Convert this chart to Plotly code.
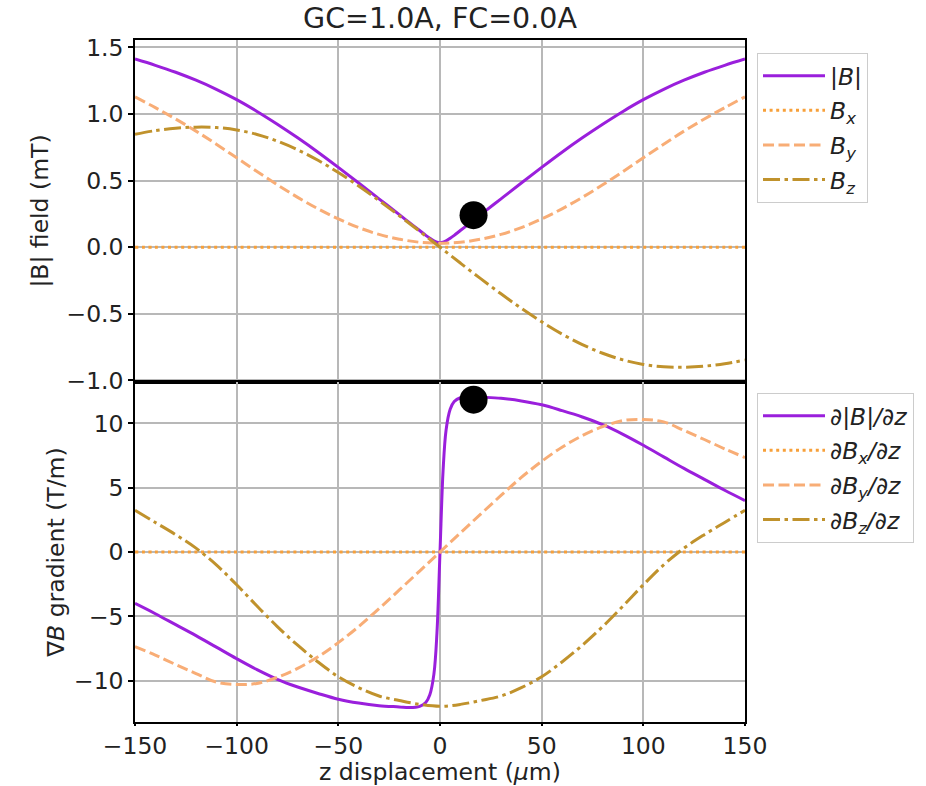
import plotly.graph_objects as go
from plotly.subplots import make_subplots

# Sample positions along z (micrometres)
z_um = [-150, -140, -130, -120, -110, -100, -90, -80, -70, -60, -50, -40, -30, -20, -10,
        0, 10, 20, 30, 40, 50, 60, 70, 80, 90, 100, 110, 120, 130, 140, 150]

# Denser sampling around the field minimum for the magnitude curves
z_fine_um = [-150, -140, -130, -120, -110, -100, -90, -80, -70, -60, -50, -40, -30, -20,
             -15, -10, -7, -5, -3, -1.5, 0, 1.5, 3, 5, 7, 10, 15,
             20, 30, 40, 50, 60, 70, 80, 90, 100, 110, 120, 130, 140, 150]

# Field components (mT)
B_mag_mT = [1.412, 1.365, 1.313, 1.253, 1.185, 1.107, 1.019, 0.923, 0.821, 0.713, 0.599,
            0.482, 0.363, 0.244, 0.184, 0.125, 0.089, 0.067, 0.047, 0.037, 0.033,
            0.037, 0.047, 0.067, 0.089, 0.125, 0.184, 0.244, 0.363, 0.482, 0.599,
            0.713, 0.821, 0.923, 1.019, 1.107, 1.185, 1.253, 1.313, 1.365, 1.412]
Bx_mT = [0.0] * 31
By_mT = [1.128, 1.047, 0.962, 0.871, 0.773, 0.671, 0.568, 0.468, 0.374, 0.288, 0.212,
         0.147, 0.096, 0.060, 0.037, 0.030, 0.037, 0.060, 0.096, 0.147, 0.212, 0.288,
         0.374, 0.468, 0.568, 0.671, 0.773, 0.871, 0.962, 1.047, 1.128]
Bz_mT = [0.847, 0.875, 0.893, 0.901, 0.898, 0.880, 0.846, 0.796, 0.731, 0.652, 0.560,
         0.459, 0.350, 0.236, 0.119, 0.0, -0.119, -0.236, -0.350, -0.459, -0.560, -0.652,
         -0.731, -0.796, -0.846, -0.880, -0.898, -0.901, -0.893, -0.875, -0.847]

# Gradients (T/m)
dBmag_dz = [-4.0, -4.8, -5.65, -6.5, -7.4, -8.3, -9.15, -9.9, -10.5, -11.0, -11.45,
            -11.75, -11.95, -12.05, -12.1, -12.0, -11.7, -11.1, -9.5, -6.3, 0.0,
            6.3, 9.5, 11.1, 11.7, 12.0, 12.1, 12.05, 11.95, 11.75, 11.45,
            11.0, 10.5, 9.9, 9.15, 8.3, 7.4, 6.5, 5.65, 4.8, 4.0]
dBx_dz = [0.0] * 31
dBy_dz = [-7.35, -8.02, -8.75, -9.45, -10.12, -10.30, -10.22, -9.75, -9.05, -8.15, -7.05,
          -5.80, -4.40, -2.95, -1.48, 0.0, 1.48, 2.95, 4.40, 5.80, 7.05, 8.15, 9.05,
          9.75, 10.22, 10.30, 10.12, 9.45, 8.75, 8.02, 7.35]
dBz_dz = [3.25, 2.3, 1.35, 0.3, -1.0, -2.55, -4.2, -5.8, -7.25, -8.55, -9.7, -10.55,
          -11.2, -11.55, -11.85, -12.0, -11.85, -11.55, -11.2, -10.55, -9.7, -8.55,
          -7.25, -5.8, -4.2, -2.55, -1.0, 0.3, 1.35, 2.3, 3.25]

# Highlighted operating point
marker_z = [16.5]
marker_B = [0.24]
marker_dB = [11.85]

title_text = "GC=1.0A, FC=0.0A"
x_title = "z displacement (<i>μ</i>m)"

C_MAG = "#9a1fdc"
C_X = "#f7a03a"
C_Y = "#f8ad76"
C_Z = "#c0922c"
LW = 3
DOT = "3px,3.6px"
DASH = "11px,4.5px"
DASHDOT = "17px,4.5px,3.5px,4.5px"
FS = 23.5

fig = make_subplots(rows=2, cols=1, shared_xaxes=True, vertical_spacing=0)

top = [
    (z_fine_um, B_mag_mT, "|<i>B</i>|", C_MAG, "solid"),
    (z_um, Bx_mT, "<i>B<sub>x</sub></i>", C_X, DOT),
    (z_um, By_mT, "<i>B<sub>y</sub></i>", C_Y, DASH),
    (z_um, Bz_mT, "<i>B<sub>z</sub></i>", C_Z, DASHDOT),
]
bottom = [
    (z_fine_um, dBmag_dz, "<i>∂|B|/∂z</i>", C_MAG, "solid"),
    (z_um, dBx_dz, "<i>∂B<sub>x</sub>/∂z</i>", C_X, DOT),
    (z_um, dBy_dz, "<i>∂B<sub>y</sub>/∂z</i>", C_Y, DASH),
    (z_um, dBz_dz, "<i>∂B<sub>z</sub>/∂z</i>", C_Z, DASHDOT),
]

for i, (xs, ys, name, col, dash) in enumerate(top):
    fig.add_trace(go.Scatter(x=xs, y=ys, name=name, mode="lines",
                             line=dict(color=col, width=LW, dash=dash, shape="spline"),
                             legend="legend", legendgroup=f"t{i}"), row=1, col=1)
for i, (xs, ys, name, col, dash) in enumerate(bottom):
    fig.add_trace(go.Scatter(x=xs, y=ys, name=name, mode="lines",
                             line=dict(color=col, width=LW, dash=dash, shape="spline"),
                             legend="legend2", legendgroup=f"b{i}"), row=2, col=1)

fig.add_trace(go.Scatter(x=marker_z, y=marker_B, mode="markers", showlegend=False,
                         marker=dict(color="black", size=28)), row=1, col=1)
fig.add_trace(go.Scatter(x=marker_z, y=marker_dB, mode="markers", showlegend=False,
                         marker=dict(color="black", size=28)), row=2, col=1)

axis_common = dict(showline=True, mirror=True, linecolor="black", linewidth=1.5,
                   showgrid=True, gridcolor="#b8b8b8", gridwidth=1.5, zeroline=False,
                   ticklen=5, tickwidth=1.5, tickcolor="black", automargin=False,
                   tickfont=dict(size=FS, color="#222222"))

split = 0.4985
fig.update_xaxes(**axis_common, range=[-150, 150], tick0=0, dtick=50)
fig.update_xaxes(ticks="", showticklabels=False, row=1, col=1)
fig.update_xaxes(ticks="outside", showticklabels=True, ticklen=2, row=2, col=1)
fig.update_yaxes(**axis_common, ticks="outside")
fig.update_yaxes(domain=[split, 1], range=[-1.012, 1.555], tick0=0, dtick=0.5, tickformat=".1f",
                 title=dict(text="|B| field (mT)", font=dict(size=FS), standoff=11),
                 row=1, col=1)
fig.update_yaxes(domain=[0, split], range=[-13.22, 13.22], tick0=0, dtick=5,
                 title=dict(text="∇<i>B</i> gradient (T/m)", font=dict(size=FS), standoff=3),
                 row=2, col=1)

# x-axis title placed explicitly below the tick labels
fig.add_annotation(text=x_title, xref="paper", yref="paper", x=0.5, y=(722 - 772) / 682,
                   xanchor="center", yanchor="middle", showarrow=False,
                   font=dict(size=FS, color="#222222"))

legend_common = dict(xanchor="left", yanchor="top", bgcolor="white",
                     bordercolor="#cccccc", borderwidth=1, font=dict(size=FS, color="#222222"),
                     traceorder="grouped", tracegroupgap=1, itemwidth=62)

fig.update_layout(
    width=926, height=786,
    margin=dict(l=135, r=181, t=40, b=64),
    plot_bgcolor="white", paper_bgcolor="white",
    font=dict(family="DejaVu Sans", size=FS, color="#222222"),
    title=dict(text=title_text, x=0.5, xref="paper", y=1 - 18 / 786, yref="container",
               xanchor="center", yanchor="middle", font=dict(size=28.5)),
    legend=dict(x=(757 - 135) / 610, y=(722 - 53) / 682, **legend_common),
    legend2=dict(x=(757 - 135) / 610, y=(722 - 393) / 682, **legend_common),
)

fig.write_html("out.html")
